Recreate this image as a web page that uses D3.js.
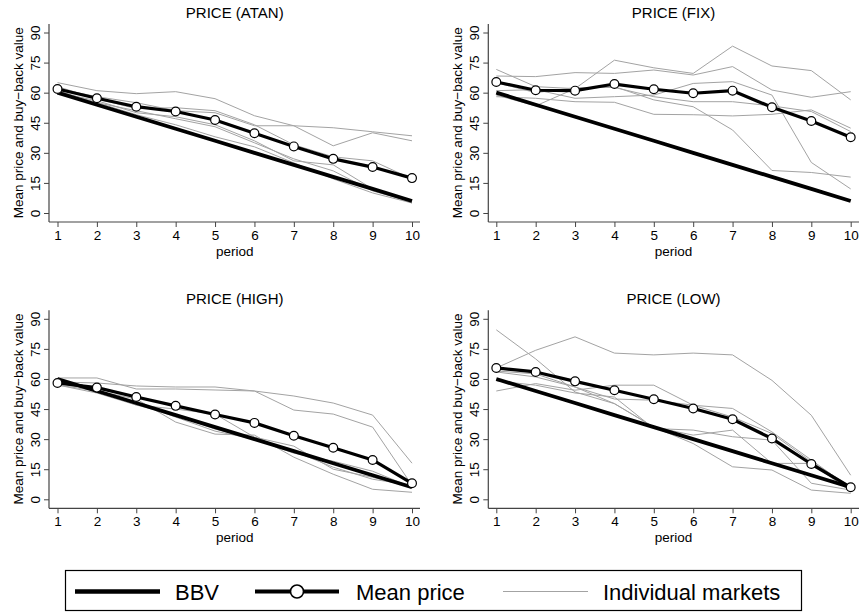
<!DOCTYPE html>
<html>
<head>
<meta charset="utf-8">
<script src="https://cdn.jsdelivr.net/npm/d3@7"></script>
<style>
  body { margin: 0; background: #fff; }
  svg { display: block; font-family: "Liberation Sans", Arial, Helvetica, sans-serif; }
</style>
</head>
<body>
<svg id="chart" width="861" height="614"></svg>
<script>
// data
const periods = [1, 2, 3, 4, 5, 6, 7, 8, 9, 10];
const yTicks = [0, 15, 30, 45, 60, 75, 90];
const panelTitles = ["PRICE (ATAN)", "PRICE (FIX)", "PRICE (HIGH)", "PRICE (LOW)"];
const legendLabels = ["BBV", "Mean price", "Individual markets"];

const bbv = [60, 54, 48, 42, 36, 30, 24, 18, 12, 6];

const meanAtan = [61.8, 57.2, 53, 50.6, 46.4, 39.8, 33.2, 27, 22.9, 17.4];
const meanFix = [65.3, 61.2, 61, 64.3, 61.7, 59.7, 61, 52.7, 45.9, 37.8];
const meanHigh = [58, 55.7, 51, 46.6, 42.3, 38.1, 31.7, 25.7, 19.6, 8];
const meanLow = [65.5, 63.5, 58.8, 54.4, 49.9, 45.3, 39.9, 30.3, 17.6, 6];

const marketsAtan = [
  [65, 61, 59.5, 60.5, 57, 48.5, 43.5, 33.5, 40, 36],
  [62, 58, 55, 51, 50, 43.5, 43.5, 42.5, 40.5, 38.5],
  [63, 57, 52, 52.5, 51, 44, 34, 28, 26, 17],
  [60, 56, 50, 48, 44, 36, 26, 24, 12, 5],
  [61, 55, 51, 47, 43, 35, 27, 21, 11, 5.5],
  [60, 55, 49, 44, 38, 33, 25, 17, 10, 5]
];
const marketsFix = [
  [68.3, 68, 70, 69.6, 71.3, 68.8, 73, 61.3, 57.7, 60.5],
  [71.6, 63, 62, 63, 56.4, 53, 41.4, 21.2, 20.2, 17.9],
  [58.8, 53.4, 62, 76.2, 72.4, 69.6, 83.2, 73.3, 71, 56.4],
  [58, 57.2, 55.5, 55.2, 49.2, 49, 48.4, 49.2, 51.4, 42.3],
  [61, 61.5, 57.2, 58, 58.8, 64.6, 65.5, 58.8, 25.2, 12],
  [65, 60, 62.5, 62.6, 58, 55.5, 55.5, 53.4, 50.6, 40.6]
];
const marketsHigh = [
  [60.5, 60.5, 55, 55, 54.5, 54, 44.5, 42.5, 36, 7],
  [58.5, 58, 56.5, 56, 56, 54, 51.5, 48, 42, 18],
  [57, 54, 50, 38.5, 32.5, 32, 21, 12.5, 5, 3.5],
  [58, 54, 47, 45, 42.5, 31, 26.5, 15, 11, 6],
  [57, 53, 47, 42, 35, 30, 23, 19, 14, 6],
  [59, 54, 48, 41, 34, 30, 24, 16, 10, 7]
];
const marketsLow = [
  [84.5, 70, 53.5, 47.7, 36, 27.8, 16.2, 14.6, 4.6, 3],
  [65.5, 74.3, 81, 72.9, 72, 72.9, 72, 59.3, 41.9, 12],
  [54, 57.7, 54.4, 56.9, 56.9, 46.9, 45.3, 33.6, 19.6, 5.5],
  [59, 56.9, 53, 51, 35.3, 34.5, 31.2, 29.5, 8, 4.6],
  [63.5, 61, 56, 47.7, 36, 32, 34.5, 17.9, 17.9, 4],
  [64, 62.5, 56, 50, 49.4, 46.9, 41, 32.8, 18.7, 6.3]
];

const means = [meanAtan, meanFix, meanHigh, meanLow];
const markets = [marketsAtan, marketsFix, marketsHigh, marketsLow];

// layout
const cols = [
  { axisX: 49, x1: 57.5, x10: 412, right: 420 },
  { axisX: 488.3, x1: 496.3, x10: 850.7, right: 859 }
];
const rows = [
  { y0: 213, y90: 32.5, top: 24, bottom: 222 },
  { y0: 499.3, y90: 318.8, top: 310.3, bottom: 508.3 }
];

const fontSize = 13.5;
const axisColor = "#444";
const grey = "#a3a3a3";

const svg = d3.select("#chart");

panelTitles.forEach((title, i) => {
  const c = cols[i % 2], r = rows[Math.floor(i / 2)];
  const x = d3.scaleLinear().domain([1, 10]).range([c.x1, c.x10]);
  const y = d3.scaleLinear().domain([0, 90]).range([r.y0, r.y90]);
  const g = svg.append("g");

  // title
  g.append("text")
    .attr("x", (c.x1 + c.x10) / 2)
    .attr("y", r.top - 6)
    .attr("text-anchor", "middle")
    .attr("font-size", 15)
    .text(title);

  // y axis
  const gy = g.append("g")
    .attr("transform", `translate(${c.axisX},0)`)
    .call(d3.axisLeft(y).tickValues(yTicks).tickSize(5).tickPadding(0));
  gy.select(".domain").remove();
  gy.selectAll(".tick line").attr("stroke", axisColor);
  gy.selectAll(".tick text")
    .attr("font-size", fontSize)
    .attr("font-family", null)
    .attr("fill", "#000")
    .attr("x", null).attr("dy", null)
    .attr("text-anchor", "middle")
    .attr("transform", "translate(-9,0) rotate(-90)");
  g.append("line")
    .attr("x1", c.axisX).attr("x2", c.axisX)
    .attr("y1", r.top).attr("y2", r.bottom)
    .attr("stroke", axisColor).attr("stroke-width", 1.2);

  // x axis
  const gx = g.append("g")
    .attr("transform", `translate(0,${r.bottom})`)
    .call(d3.axisBottom(x).tickValues(periods).tickSize(5).tickPadding(3));
  gx.select(".domain").remove();
  gx.selectAll(".tick line").attr("stroke", axisColor);
  gx.selectAll(".tick text")
    .attr("font-size", fontSize)
    .attr("font-family", null)
    .attr("fill", "#000");
  g.append("line")
    .attr("x1", c.axisX).attr("x2", c.right)
    .attr("y1", r.bottom).attr("y2", r.bottom)
    .attr("stroke", axisColor).attr("stroke-width", 1.2);

  // axis titles
  g.append("text")
    .attr("x", (c.x1 + c.x10) / 2)
    .attr("y", r.bottom + 34)
    .attr("text-anchor", "middle")
    .attr("font-size", fontSize)
    .text("period");
  g.append("text")
    .attr("transform", `translate(${c.axisX - 26},${(r.y0 + r.y90) / 2}) rotate(-90)`)
    .attr("text-anchor", "middle")
    .attr("font-size", fontSize)
    .text("Mean price and buy\u2212back value");

  const line = d3.line().x((d, j) => x(periods[j])).y(d => y(d));

  // individual markets
  g.selectAll("path.market")
    .data(markets[i])
    .enter().append("path")
    .attr("class", "market")
    .attr("d", line)
    .attr("fill", "none")
    .attr("stroke", grey)
    .attr("stroke-width", 1);

  // buy-back value
  g.append("path")
    .datum(bbv)
    .attr("d", line)
    .attr("fill", "none")
    .attr("stroke", "#000")
    .attr("stroke-width", 3.8);

  // mean price
  g.append("path")
    .datum(means[i])
    .attr("d", line)
    .attr("fill", "none")
    .attr("stroke", "#000")
    .attr("stroke-width", 3.2)
    .attr("stroke-linejoin", "round");
  g.selectAll("circle")
    .data(means[i])
    .enter().append("circle")
    .attr("cx", (d, j) => x(periods[j]))
    .attr("cy", d => y(d))
    .attr("r", 4.4)
    .attr("fill", "#fff")
    .attr("stroke", "#000")
    .attr("stroke-width", 1.2);
});

// legend
const lg = svg.append("g");
lg.append("rect")
  .attr("x", 65.5).attr("y", 570.5)
  .attr("width", 736).attr("height", 40)
  .attr("fill", "#fff")
  .attr("stroke", "#000")
  .attr("stroke-width", 1.2);

const ly = 591.5;
lg.append("line")
  .attr("x1", 75).attr("x2", 160).attr("y1", ly).attr("y2", ly)
  .attr("stroke", "#000").attr("stroke-width", 4.5);
lg.append("line")
  .attr("x1", 255).attr("x2", 339).attr("y1", ly).attr("y2", ly)
  .attr("stroke", "#000").attr("stroke-width", 4);
lg.append("circle")
  .attr("cx", 297).attr("cy", ly).attr("r", 6.5)
  .attr("fill", "#fff").attr("stroke", "#000").attr("stroke-width", 1.6);
lg.append("line")
  .attr("x1", 503).attr("x2", 588).attr("y1", ly).attr("y2", ly)
  .attr("stroke", grey).attr("stroke-width", 1.2);

const textX = [175, 356, 603];
legendLabels.forEach((t, k) => {
  lg.append("text")
    .attr("x", textX[k])
    .attr("y", ly + 8)
    .attr("font-size", 22)
    .text(t);
});
</script>
</body>
</html>
